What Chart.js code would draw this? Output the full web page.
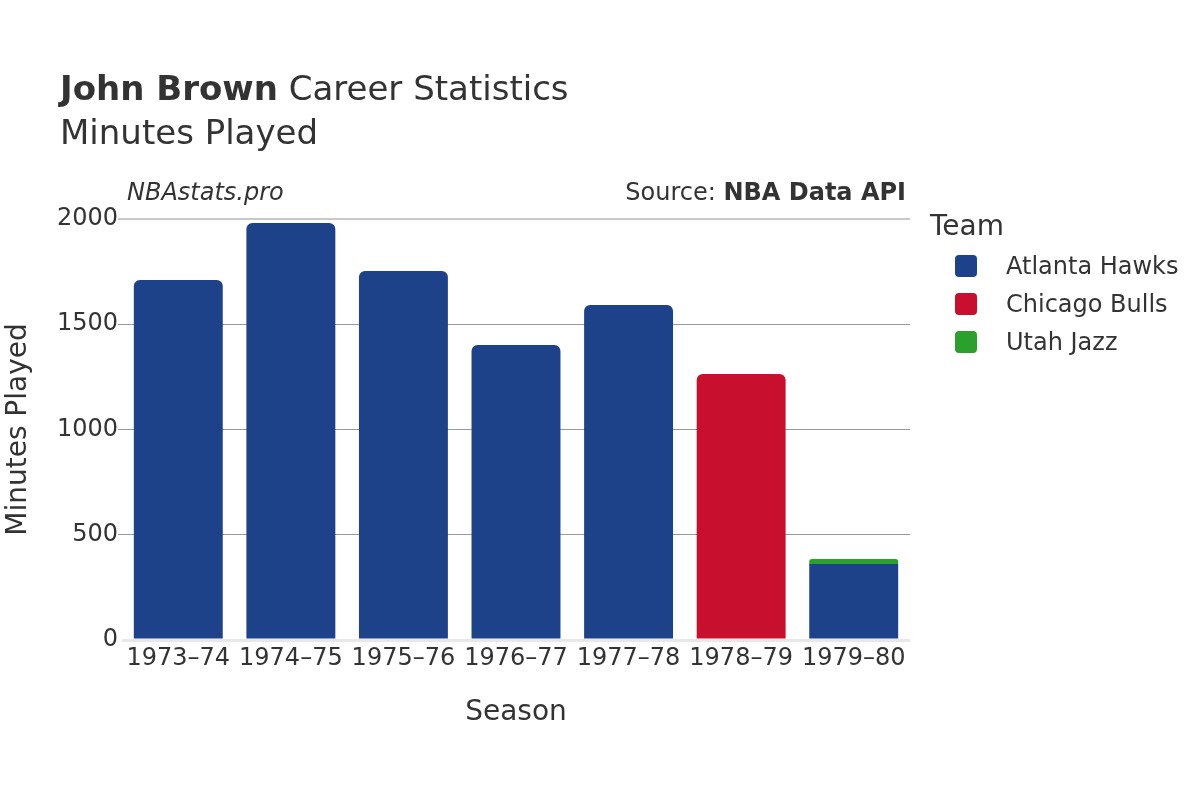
<!DOCTYPE html>
<html>
<head>
<meta charset="utf-8">
<script src="https://cdn.jsdelivr.net/npm/chart.js@4/dist/chart.umd.min.js"></script>
<style>
  body { margin: 0; background: #fff; font-family: 'DejaVu Sans', sans-serif; color: #333; }
  #wrap { position: relative; width: 1200px; height: 800px; }
  canvas { position: absolute; left: 0; top: 0; }
  .t { position: absolute; white-space: nowrap; line-height: 1; }
  .sw { position: absolute; width: 22px; height: 22px; border-radius: 4px; }
</style>
</head>
<body>
<div id="wrap">
  <canvas id="chart" width="1200" height="800"></canvas>
  <div class="t" style="left:60px; top:71px; font-size:34px;"><b>John Brown</b> Career Statistics</div>
  <div class="t" style="left:60px; top:115px; font-size:34px;">Minutes Played</div>
  <div class="t" style="left:127px; top:180px; font-size:24px; font-style:italic;">NBAstats.pro</div>
  <div class="t" style="right:294px; top:180px; font-size:24px;">Source: <b>NBA Data API</b></div>
  <div class="t" style="left:930px; top:212px; font-size:28px;">Team</div>
  <div id="legend"></div>
</div>
<script>
const seasons = ['1973–74', '1974–75', '1975–76', '1976–77', '1977–78', '1978–79', '1979–80'];
const atlantaHawks = [1710, 1981, 1753, 1401, 1591, null, 361];
const chicagoBulls = [null, null, null, null, null, 1264, null];
const utahJazz = [null, null, null, null, null, null, 24];
const yTicks = [0, 500, 1000, 1500, 2000];

const teams = ['Atlanta Hawks', 'Chicago Bulls', 'Utah Jazz'];
const teamColors = ['#1d428a', '#c8102e', '#2ca02c'];
const series = [atlantaHawks, chicagoBulls, utahJazz];

// round only the top of each stack
function topRadius(c) {
  for (let k = c.datasetIndex + 1; k < series.length; k++) {
    if (series[k][c.dataIndex]) return 0;
  }
  return 6;
}

const legend = document.getElementById('legend');
teams.forEach((name, i) => {
  const y = 266 + i * 38;
  legend.insertAdjacentHTML('beforeend',
    `<div class="sw" style="left:955px; top:${y - 11}px; background:${teamColors[i]}"></div>` +
    `<div class="t" style="left:1006px; top:${y - 12}px; font-size:24px;">${name}</div>`);
});

new Chart(document.getElementById('chart'), {
  type: 'bar',
  data: {
    labels: seasons,
    datasets: teams.map((name, i) => ({
      label: name,
      data: series[i],
      backgroundColor: teamColors[i],
      borderWidth: 0,
      borderRadius: topRadius,
      borderSkipped: 'start',
      barPercentage: 0.79,
      categoryPercentage: 1
    }))
  },
  options: {
    responsive: false,
    animation: false,
    layout: { padding: { left: 0, right: 290, top: 219, bottom: 60 } },
    plugins: {
      legend: { display: false },
      title: { display: false },
      tooltip: { enabled: false }
    },
    scales: {
      x: {
        stacked: true,
        afterFit: s => { s.height = 100; },
        grid: { display: false },
        border: { display: false },
        ticks: { color: '#333', font: { family: 'DejaVu Sans', size: 24 }, padding: -4, maxRotation: 0 },
        title: { display: true, text: 'Season', color: '#333', font: { family: 'DejaVu Sans', size: 28 }, padding: { top: 14, bottom: 10 } }
      },
      y: {
        stacked: true,
        min: 0,
        max: 2000,
        afterFit: s => { s.width = 122; },
        afterBuildTicks: s => { s.ticks = yTicks.map(v => ({ value: v })); },
        grid: {
          color: c => c.tick.value === 0 ? '#e8e8e8' : (c.tick.value === 2000 ? '#c8c8c8' : '#999'),
          lineWidth: c => c.tick.value === 0 ? 3 : (c.tick.value === 2000 ? 2 : 1),
          drawTicks: true,
          tickLength: 4,
          tickColor: c => c.tick.value === 0 ? 'rgba(0,0,0,0)' : (c.tick.value === 2000 ? '#c8c8c8' : '#999')
        },
        border: { display: false },
        ticks: { color: '#333', font: { family: 'DejaVu Sans', size: 24 }, padding: 0, callback: v => String(v) },
        title: { display: true, text: 'Minutes Played', color: '#333', font: { family: 'DejaVu Sans', size: 28 }, padding: { top: 2, bottom: 0 } }
      }
    }
  }
});
</script>
</body>
</html>
